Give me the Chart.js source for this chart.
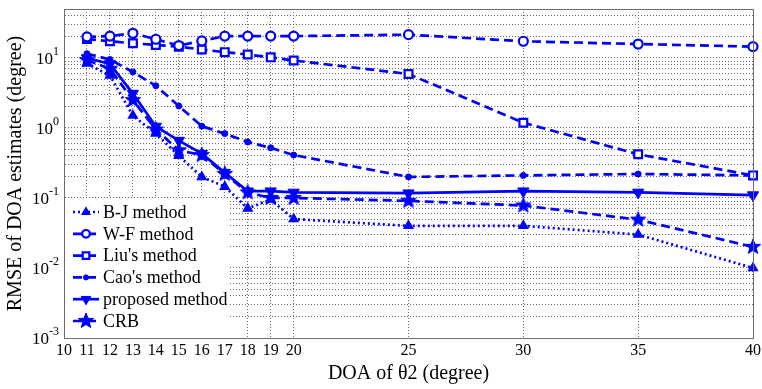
<!DOCTYPE html>
<html><head><meta charset="utf-8">
<script src="https://cdn.jsdelivr.net/npm/chart.js@4.4.1/dist/chart.umd.min.js"></script>
<style>html,body{margin:0;padding:0;background:#fff;}</style>
</head><body>
<canvas id="c" width="762" height="389"></canvas>
<script>
// ---- data ----
const doa = [11, 12, 13, 14, 15, 16, 17, 18, 19, 20, 25, 30, 35, 40];
const xTickValues = [10, 11, 12, 13, 14, 15, 16, 17, 18, 19, 20, 25, 30, 35, 40];
const yDecades = [0.001, 0.01, 0.1, 1, 10];
const yTickBase = '10';
const yTickExponents = ['-3', '-2', '-1', '0', '1'];
const seriesNames = ['B-J method', 'W-F method', "Liu's method", "Cao's method", 'proposed method', 'CRB'];
const bjMethod = [8.3, 5.6, 1.5, 0.83, 0.4, 0.2, 0.145, 0.071, 0.095, 0.05, 0.04, 0.04, 0.03, 0.01];
const wfMethod = [20, 20.5, 22.5, 18.5, 15, 17.5, 20.5, 20.5, 20.5, 20.5, 21.5, 17.3, 15.8, 14.5];
const liuMethod = [18.6, 17.3, 16.2, 15.3, 14.5, 13.2, 12.1, 11.2, 10.2, 9.2, 5.9, 1.19, 0.42, 0.21];
const caoMethod = [11.5, 9.5, 6.3, 4.0, 2.06, 1.06, 0.83, 0.63, 0.52, 0.41, 0.2, 0.21, 0.22, 0.21];
const proposedMethod = [10, 8.2, 3.1, 1.05, 0.66, 0.43, 0.23, 0.125, 0.125, 0.12, 0.117, 0.125, 0.12, 0.11];
const crb = [9.3, 7.0, 2.5, 0.95, 0.48, 0.41, 0.22, 0.12, 0.1, 0.1, 0.091, 0.078, 0.049, 0.02];

// minor + major log grid values 1e-3 .. 50
const yGridValues = [];
for (let e = -3; e <= 1; e++) {
  for (let m = 1; m <= 9; m++) {
    const v = +(m * Math.pow(10, e)).toPrecision(3);
    if (v <= 50) yGridValues.push(v);
  }
}

const BLUE = '#0000ff';
const SERIF = "'Liberation Serif', 'Times New Roman', serif";

// filled five-point star marker
function makeStar(size, rOut, rIn) {
  const cv = document.createElement('canvas');
  cv.width = size; cv.height = size;
  const g = cv.getContext('2d');
  const c = size / 2;
  g.beginPath();
  for (let i = 0; i < 10; i++) {
    const r = i % 2 === 0 ? rOut : rIn;
    const a = -Math.PI / 2 + i * Math.PI / 5;
    const px = c + r * Math.cos(a), py = c + r * Math.sin(a);
    if (i === 0) g.moveTo(px, py); else g.lineTo(px, py);
  }
  g.closePath();
  g.fillStyle = BLUE; g.fill();
  g.strokeStyle = BLUE; g.lineWidth = 1; g.stroke();
  return cv;
}
const starImg = makeStar(18, 8, 3.4);

function pts(arr) { return doa.map((x, i) => ({ x: x, y: arr[i] })); }

const styles = [
  { dash: [2, 3], pointStyle: 'triangle', radius: 5, rotation: 0, bg: BLUE, bw: 1.5 },
  { dash: [9, 5], pointStyle: 'circle', radius: 4.5, rotation: 0, bg: '#ffffff', bw: 2.2 },
  { dash: [9, 5], pointStyle: 'rect', radius: 5.5, rotation: 0, bg: '#ffffff', bw: 2.2 },
  { dash: [9, 5], pointStyle: 'circle', radius: 3, rotation: 0, bg: BLUE, bw: 1 },
  { dash: [], pointStyle: 'triangle', radius: 6.5, rotation: 180, bg: BLUE, bw: 1 },
  { dash: [9, 5], pointStyle: starImg, radius: 8, rotation: 0, bg: BLUE, bw: 1 }
];
const allSeries = [bjMethod, wfMethod, liuMethod, caoMethod, proposedMethod, crb];

const datasets = allSeries.map((arr, i) => ({
  label: seriesNames[i],
  data: pts(arr),
  borderColor: BLUE,
  backgroundColor: BLUE,
  borderWidth: 2.7,
  borderDash: styles[i].dash,
  pointStyle: styles[i].pointStyle,
  pointRadius: styles[i].radius,
  pointRotation: styles[i].rotation,
  pointBackgroundColor: styles[i].bg,
  pointBorderColor: BLUE,
  pointBorderWidth: styles[i].bw,
  tension: 0,
  clip: 12
}));

const framePlugin = {
  id: 'frame',
  afterDraw(chart) {
    const a = chart.chartArea, ctx = chart.ctx;
    ctx.save();
    ctx.strokeStyle = '#6e6e6e'; ctx.lineWidth = 1;
    ctx.beginPath();
    ctx.moveTo(a.left, a.top + 0.5); ctx.lineTo(a.right + 0.5, a.top + 0.5); ctx.lineTo(a.right + 0.5, a.bottom);
    ctx.stroke();
    // y tick labels with superscript exponents, positioned by the y scale
    const ys = chart.scales.y;
    ctx.fillStyle = '#000';
    yDecades.forEach((v, k) => {
      const y = ys.getPixelForValue(v);
      const exp = yTickExponents[k];
      ctx.font = '12px ' + SERIF;
      const ew = ctx.measureText(exp).width;
      const right = a.left - 5;
      ctx.textAlign = 'left'; ctx.textBaseline = 'alphabetic';
      ctx.fillText(exp, right - ew, y - 3);
      ctx.font = '17px ' + SERIF;
      ctx.textAlign = 'right'; ctx.textBaseline = 'middle';
      ctx.fillText(yTickBase, right - ew, y + 2);
    });
    ctx.restore();
  }
};

const legendPlugin = {
  id: 'innerLegend',
  afterDatasetsDraw(chart) {
    const a = chart.chartArea, ctx = chart.ctx;
    const bx = a.left + 1, by = a.bottom - 140, bw = 165, bh = 139;
    ctx.save();
    ctx.fillStyle = '#ffffff';
    ctx.fillRect(bx, by, bw, bh);
    chart.data.datasets.forEach((ds, i) => {
      const y = by + 14 + i * 21.8;
      ctx.strokeStyle = BLUE; ctx.lineWidth = 2.7;
      ctx.setLineDash(ds.borderDash);
      ctx.beginPath(); ctx.moveTo(a.left + 9, y); ctx.lineTo(a.left + 35, y); ctx.stroke();
      ctx.setLineDash([]);
      ctx.fillStyle = ds.pointBackgroundColor; ctx.strokeStyle = BLUE;
      ctx.lineWidth = ds.pointBorderWidth;
      Chart.helpers.drawPoint(ctx, {
        pointStyle: ds.pointStyle, radius: ds.pointRadius * 0.85, rotation: ds.pointRotation,
        borderWidth: ds.pointBorderWidth
      }, a.left + 22, y);
      ctx.fillStyle = '#000';
      ctx.font = '18px ' + SERIF;
      ctx.textBaseline = 'middle'; ctx.textAlign = 'left';
      ctx.fillText(ds.label, a.left + 39, y + 1);
    });
    ctx.restore();
  }
};

new Chart(document.getElementById('c'), {
  type: 'line',
  data: { datasets: datasets },
  options: {
    responsive: false,
    animation: false,
    devicePixelRatio: 1,
    layout: { padding: { left: 0, top: 6, right: 7, bottom: 0 } },
    plugins: { legend: { display: false }, tooltip: { enabled: false } },
    scales: {
      x: {
        type: 'linear', min: 10, max: 40,
        afterBuildTicks(scale) { scale.ticks = xTickValues.map(v => ({ value: v })); },
        afterFit(scale) { scale.height = 51; scale.paddingLeft = 0; scale.paddingRight = 0; },
        ticks: {
          autoSkip: false, maxRotation: 0, padding: 3, color: '#000',
          font: { family: SERIF, size: 16 },
          callback: (v) => String(v)
        },
        grid: { color: '#6a6a6a', lineWidth: 1, drawTicks: false },
        border: { display: true, color: '#6e6e6e', width: 1, dash: [1, 2] },
        title: { display: true, text: 'DOA of \u03B82 (degree)', color: '#000',
          font: { family: SERIF, size: 20 }, padding: { top: 0, bottom: 3 } }
      },
      y: {
        type: 'logarithmic', min: 0.001, max: 50,
        afterBuildTicks(scale) { scale.ticks = yGridValues.map(v => ({ value: v })); },
        afterFit(scale) { scale.width = 64; scale.paddingTop = 0; scale.paddingBottom = 0; },
        ticks: { autoSkip: false, padding: 4, color: '#000',
          font: { family: SERIF, size: 17 }, callback: () => '' },
        grid: { color: '#6a6a6a', lineWidth: 1, drawTicks: false },
        border: { display: true, color: '#6e6e6e', width: 1, dash: [1, 2] },
        title: { display: true, text: 'RMSE of DOA estimates (degree)', color: '#000',
          font: { family: SERIF, size: 20 }, padding: { top: 4, bottom: 0 } }
      }
    }
  },
  plugins: [legendPlugin, framePlugin]
});
</script>
</body></html>
